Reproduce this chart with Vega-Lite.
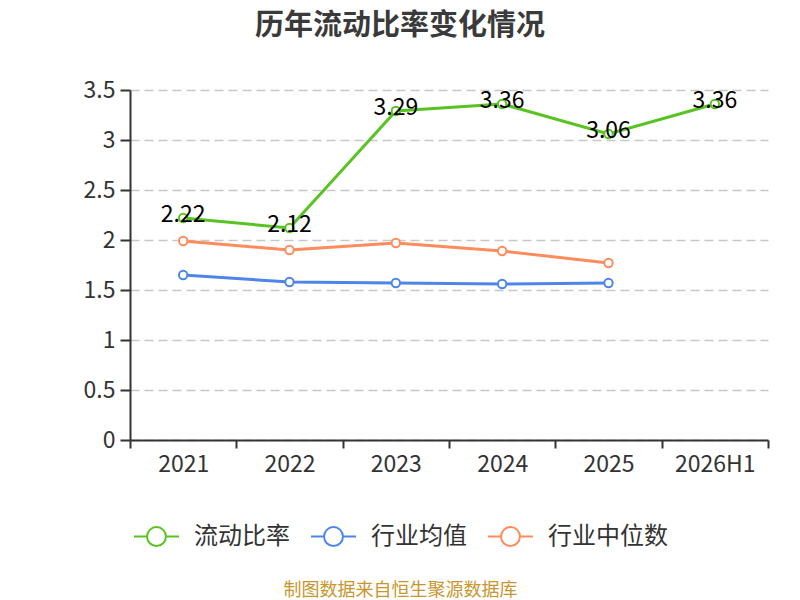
{
  "$schema": "https://vega.github.io/schema/vega-lite/v6.json",
  "width": 638,
  "height": 350,
  "autosize": {"type": "none"},
  "padding": {"left": 130, "top": 90, "right": 32, "bottom": 160},
  "background": "white",
  "title": {
    "text": "历年流动比率变化情况",
    "font": "Noto Sans CJK SC",
    "fontSize": 29,
    "fontWeight": "bold",
    "color": "#3a3a3a",
    "anchor": "middle",
    "frame": "group",
    "dx": -49,
    "offset": 38
  },
  "config": {
    "view": {"stroke": null},
    "font": "Noto Sans CJK SC",
    "legend": {
      "orient": "none",
      "direction": "horizontal",
      "legendX": 3,
      "legendY": 423,
      "title": null,
      "symbolType": "M-1,0H-0.42M0.42,0H1M0.42,0A0.42,0.42 0 1,1 -0.42,0A0.42,0.42 0 1,1 0.42,0Z",
      "symbolSize": 2025,
      "symbolStrokeWidth": 2,
      "symbolFillColor": "white",
      "labelFont": "Noto Sans CJK SC",
      "labelFontSize": 24,
      "labelColor": "#333333",
      "labelOffset": 14,
      "columnPadding": 17,
      "labelLimit": 300
    }
  },
  "data": {
    "values": [
      {"year": "2021", "series": "流动比率", "value": 2.22},
      {"year": "2022", "series": "流动比率", "value": 2.12},
      {"year": "2023", "series": "流动比率", "value": 3.29},
      {"year": "2024", "series": "流动比率", "value": 3.36},
      {"year": "2025", "series": "流动比率", "value": 3.06},
      {"year": "2026H1", "series": "流动比率", "value": 3.36},
      {"year": "2021", "series": "行业均值", "value": 1.65},
      {"year": "2022", "series": "行业均值", "value": 1.58},
      {"year": "2023", "series": "行业均值", "value": 1.57},
      {"year": "2024", "series": "行业均值", "value": 1.56},
      {"year": "2025", "series": "行业均值", "value": 1.57},
      {"year": "2021", "series": "行业中位数", "value": 1.99},
      {"year": "2022", "series": "行业中位数", "value": 1.9},
      {"year": "2023", "series": "行业中位数", "value": 1.97},
      {"year": "2024", "series": "行业中位数", "value": 1.89},
      {"year": "2025", "series": "行业中位数", "value": 1.77}
    ]
  },
  "encoding": {
    "x": {
      "field": "year",
      "type": "nominal",
      "sort": null,
      "bandPosition": 0.5,
      "scale": {"type": "band", "paddingInner": 0, "paddingOuter": 0},
      "axis": {
        "title": "制图数据来自恒生聚源数据库",
        "titleFont": "Noto Sans CJK SC",
        "titleFontSize": 18,
        "titleFontWeight": "normal",
        "titleColor": "#c8962e",
        "titleX": 270,
        "titleY": 150,
        "titleAnchor": "middle",
        "titleAlign": "center",
        "titleBaseline": "middle",
        "labelAngle": 0,
        "labelFontSize": 23,
        "labelColor": "#333333",
        "labelPadding": 5,
        "tickBand": "extent",
        "tickSize": 8,
        "tickWidth": 2,
        "tickColor": "#333333",
        "domainColor": "#333333",
        "domainWidth": 2,
        "grid": false
      }
    },
    "y": {
      "field": "value",
      "type": "quantitative",
      "scale": {"domain": [0, 3.5], "nice": false},
      "axis": {
        "title": null,
        "values": [0, 0.5, 1, 1.5, 2, 2.5, 3, 3.5],
        "format": "~g",
        "labelFontSize": 23,
        "labelColor": "#333333",
        "labelPadding": 5,
        "tickSize": 10,
        "tickWidth": 2,
        "tickColor": "#333333",
        "domainColor": "#333333",
        "domainWidth": 2,
        "grid": true,
        "gridColor": "#c8c8c8",
        "gridWidth": 1.5,
        "gridDash": [9, 5]
      }
    },
    "color": {
      "field": "series",
      "type": "nominal",
      "scale": {
        "domain": ["流动比率", "行业均值", "行业中位数"],
        "range": ["#58c322", "#4e85e8", "#fe8c5c"]
      }
    }
  },
  "layer": [
    {"mark": {"type": "line", "strokeWidth": 3}},
    {
      "mark": {
        "type": "point",
        "filled": false,
        "fill": "white",
        "fillOpacity": 1,
        "opacity": 1,
        "strokeWidth": 2,
        "size": 70
      }
    },
    {
      "transform": [{"filter": "datum.series === '流动比率'"}],
      "mark": {
        "type": "text",
        "fontSize": 23,
        "color": "#000000",
        "baseline": "middle",
        "dy": -3
      },
      "encoding": {
        "text": {"field": "value", "type": "quantitative", "format": ".2f"},
        "color": {"value": "#000000"}
      }
    }
  ]
}
